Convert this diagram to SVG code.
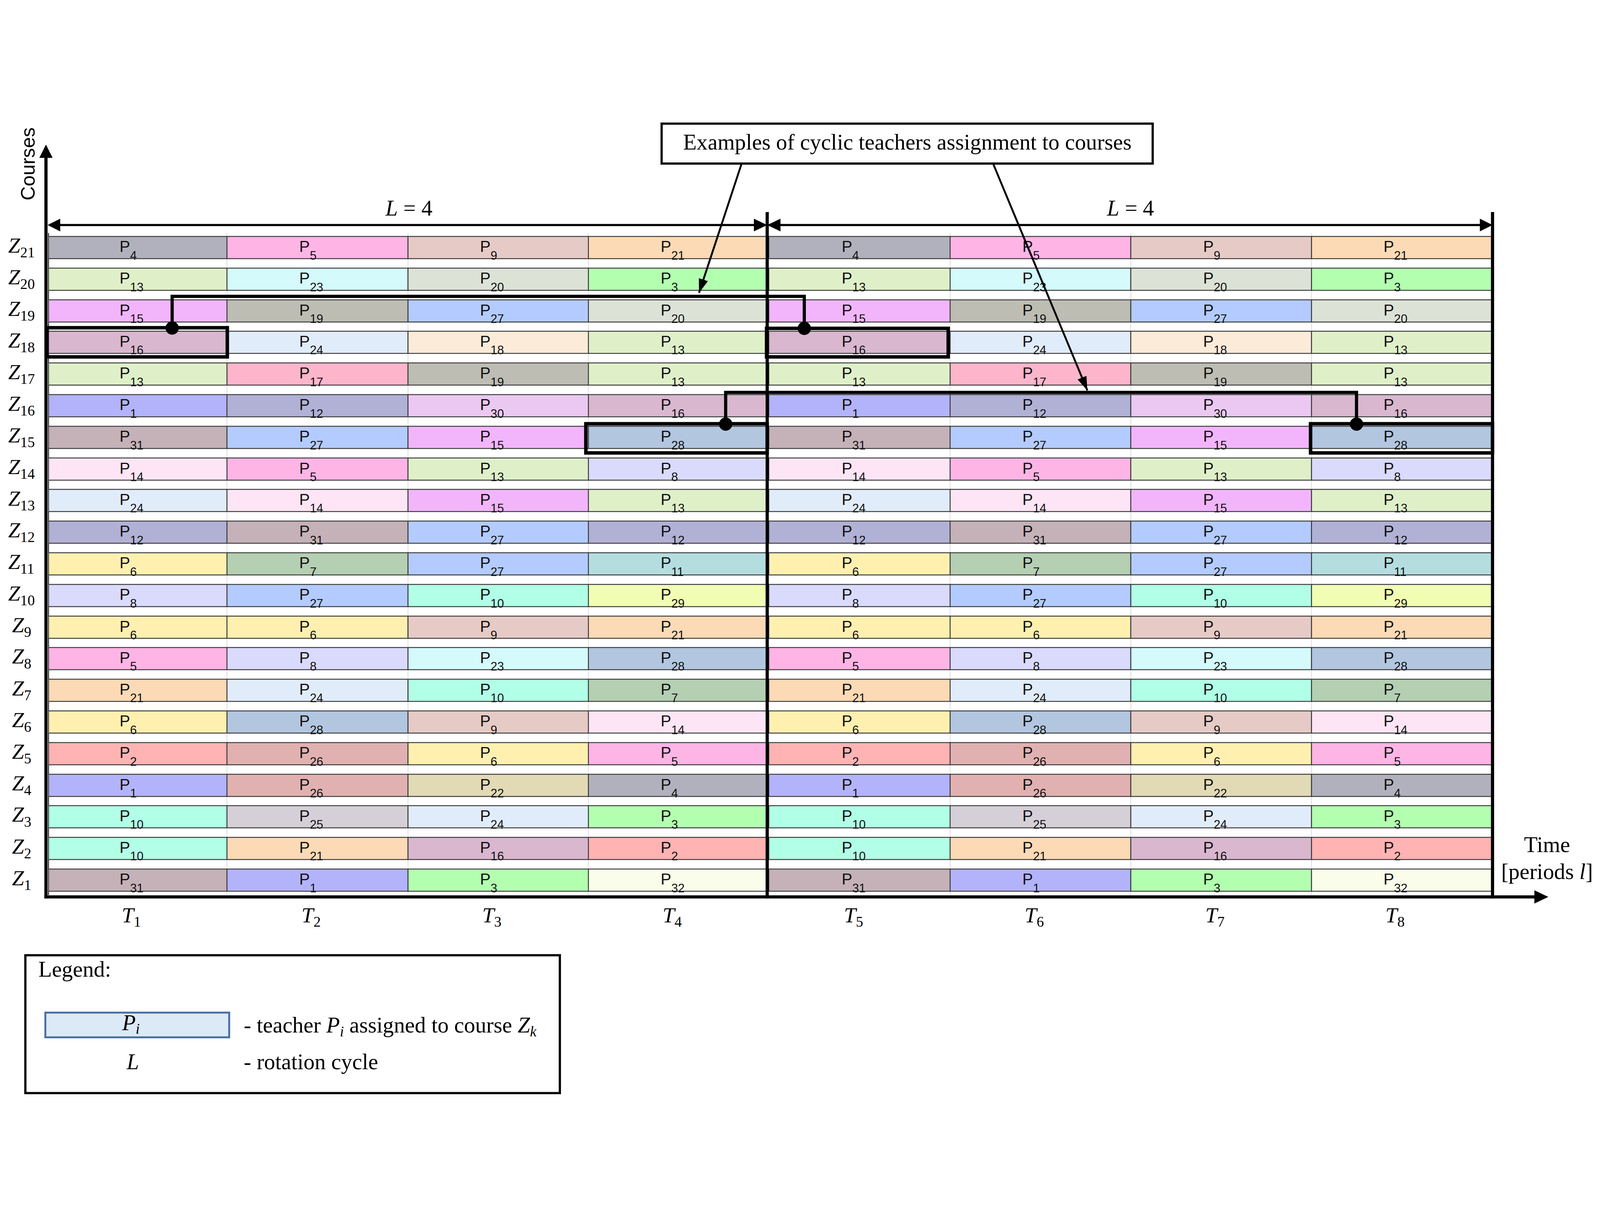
<svg xmlns="http://www.w3.org/2000/svg" width="5047" height="3119" viewBox="0 0 5047 3119" style="max-width:100vw;max-height:100vh">
<style>
.cells rect{stroke:#3c3c3c;stroke-width:3}
.cells text{font-family:"Liberation Sans",Arial,sans-serif;font-size:50px;fill:#111}
.cells tspan{font-size:38px}
.serif{font-family:"Liberation Serif","Times New Roman",serif;font-size:70px;fill:#000}
.it{font-style:italic}
.zl{font-family:"Liberation Serif","Times New Roman",serif;font-size:68px;font-style:italic}
.zs{font-size:46px;font-style:normal}
.ax{stroke:#000;stroke-width:10;fill:none}
.hl{stroke:#000;stroke-width:11;fill:none}
.cn{stroke:#000;stroke-width:10;fill:none}
.grid{stroke:#d4d4d4;stroke-width:2}
.p1{fill:#b3b3fb}.p2{fill:#ffb3b3}.p3{fill:#b3ffb0}.p4{fill:#b1b1bd}.p5{fill:#ffb4e6}.p6{fill:#fff0b0}.p7{fill:#b4cfb2}.p8{fill:#dadafc}
.p9{fill:#e6cac6}.p10{fill:#b1ffe6}.p11{fill:#b4dde0}.p12{fill:#b1b1d6}.p13{fill:#dff0c9}.p14{fill:#fde5f5}.p15{fill:#f2b5fc}.p16{fill:#d9b7cf}
.p17{fill:#fdb5cb}.p18{fill:#fdebd9}.p19{fill:#bdbdb3}.p20{fill:#dce2d6}.p21{fill:#fbdab5}.p22{fill:#e1dab5}.p23{fill:#d4fafc}.p24{fill:#e1ecfb}
.p25{fill:#d5d0d8}.p26{fill:#e1b1b1}.p27{fill:#b3cbff}.p28{fill:#b2c6e0}.p29{fill:#f2fdb4}.p30{fill:#ebc8f2}.p31{fill:#c5b1b8}.p32{fill:#f9fde9}
</style>
<defs>
<marker id="ah" viewBox="0 0 44 30" refX="44" refY="15" markerWidth="44" markerHeight="30" orient="auto" markerUnits="userSpaceOnUse"><path d="M0,0 L44,15 L0,30 z" fill="#000"/></marker>
</defs>
<rect width="5047" height="3119" fill="#fff"/>
<g id="grid-lines">
<line class="grid" x1="716" y1="373" x2="716" y2="2462"/>
<line class="grid" x1="1287" y1="373" x2="1287" y2="2462"/>
<line class="grid" x1="1856" y1="373" x2="1856" y2="2462"/>
<line class="grid" x1="2997" y1="373" x2="2997" y2="2462"/>
<line class="grid" x1="3567" y1="373" x2="3567" y2="2462"/>
<line class="grid" x1="4137" y1="373" x2="4137" y2="2462"/>
<line x1="153" y1="373" x2="153" y2="2462" stroke="#222" stroke-width="3"/>
</g>
<g class="cells">
<g id="row-z21" transform="translate(0,384)">
<g id="z21-t1"><rect class="p4" x="153" width="563" height="70"/><text x="377" y="49">P<tspan dy="24">4</tspan></text></g>
<g id="z21-t2"><rect class="p5" x="716" width="571" height="70"/><text x="944" y="49">P<tspan dy="24">5</tspan></text></g>
<g id="z21-t3"><rect class="p9" x="1287" width="569" height="70"/><text x="1514" y="49">P<tspan dy="24">9</tspan></text></g>
<g id="z21-t4"><rect class="p21" x="1856" width="564" height="70"/><text x="2084" y="49">P<tspan dy="24">21</tspan></text></g>
<g id="z21-t5"><rect class="p4" x="2425" width="572" height="70"/><text x="2655" y="49">P<tspan dy="24">4</tspan></text></g>
<g id="z21-t6"><rect class="p5" x="2997" width="570" height="70"/><text x="3225" y="49">P<tspan dy="24">5</tspan></text></g>
<g id="z21-t7"><rect class="p9" x="3567" width="570" height="70"/><text x="3795" y="49">P<tspan dy="24">9</tspan></text></g>
<g id="z21-t8"><rect class="p21" x="4137" width="568" height="70"/><text x="4364" y="49">P<tspan dy="24">21</tspan></text></g>
</g>
<g id="row-z20" transform="translate(0,484)">
<g id="z20-t1"><rect class="p13" x="153" width="563" height="70"/><text x="377" y="49">P<tspan dy="24">13</tspan></text></g>
<g id="z20-t2"><rect class="p23" x="716" width="571" height="70"/><text x="944" y="49">P<tspan dy="24">23</tspan></text></g>
<g id="z20-t3"><rect class="p20" x="1287" width="569" height="70"/><text x="1514" y="49">P<tspan dy="24">20</tspan></text></g>
<g id="z20-t4"><rect class="p3" x="1856" width="564" height="70"/><text x="2084" y="49">P<tspan dy="24">3</tspan></text></g>
<g id="z20-t5"><rect class="p13" x="2425" width="572" height="70"/><text x="2655" y="49">P<tspan dy="24">13</tspan></text></g>
<g id="z20-t6"><rect class="p23" x="2997" width="570" height="70"/><text x="3225" y="49">P<tspan dy="24">23</tspan></text></g>
<g id="z20-t7"><rect class="p20" x="3567" width="570" height="70"/><text x="3795" y="49">P<tspan dy="24">20</tspan></text></g>
<g id="z20-t8"><rect class="p3" x="4137" width="568" height="70"/><text x="4364" y="49">P<tspan dy="24">3</tspan></text></g>
</g>
<g id="row-z19" transform="translate(0,584)">
<g id="z19-t1"><rect class="p15" x="153" width="563" height="70"/><text x="377" y="49">P<tspan dy="24">15</tspan></text></g>
<g id="z19-t2"><rect class="p19" x="716" width="571" height="70"/><text x="944" y="49">P<tspan dy="24">19</tspan></text></g>
<g id="z19-t3"><rect class="p27" x="1287" width="569" height="70"/><text x="1514" y="49">P<tspan dy="24">27</tspan></text></g>
<g id="z19-t4"><rect class="p20" x="1856" width="564" height="70"/><text x="2084" y="49">P<tspan dy="24">20</tspan></text></g>
<g id="z19-t5"><rect class="p15" x="2425" width="572" height="70"/><text x="2655" y="49">P<tspan dy="24">15</tspan></text></g>
<g id="z19-t6"><rect class="p19" x="2997" width="570" height="70"/><text x="3225" y="49">P<tspan dy="24">19</tspan></text></g>
<g id="z19-t7"><rect class="p27" x="3567" width="570" height="70"/><text x="3795" y="49">P<tspan dy="24">27</tspan></text></g>
<g id="z19-t8"><rect class="p20" x="4137" width="568" height="70"/><text x="4364" y="49">P<tspan dy="24">20</tspan></text></g>
</g>
<g id="row-z18" transform="translate(0,683)">
<g id="z18-t1"><rect class="p16" x="153" width="563" height="70"/><text x="377" y="49">P<tspan dy="24">16</tspan></text></g>
<g id="z18-t2"><rect class="p24" x="716" width="571" height="70"/><text x="944" y="49">P<tspan dy="24">24</tspan></text></g>
<g id="z18-t3"><rect class="p18" x="1287" width="569" height="70"/><text x="1514" y="49">P<tspan dy="24">18</tspan></text></g>
<g id="z18-t4"><rect class="p13" x="1856" width="564" height="70"/><text x="2084" y="49">P<tspan dy="24">13</tspan></text></g>
<g id="z18-t5"><rect class="p16" x="2425" width="572" height="70"/><text x="2655" y="49">P<tspan dy="24">16</tspan></text></g>
<g id="z18-t6"><rect class="p24" x="2997" width="570" height="70"/><text x="3225" y="49">P<tspan dy="24">24</tspan></text></g>
<g id="z18-t7"><rect class="p18" x="3567" width="570" height="70"/><text x="3795" y="49">P<tspan dy="24">18</tspan></text></g>
<g id="z18-t8"><rect class="p13" x="4137" width="568" height="70"/><text x="4364" y="49">P<tspan dy="24">13</tspan></text></g>
</g>
<g id="row-z17" transform="translate(0,783)">
<g id="z17-t1"><rect class="p13" x="153" width="563" height="70"/><text x="377" y="49">P<tspan dy="24">13</tspan></text></g>
<g id="z17-t2"><rect class="p17" x="716" width="571" height="70"/><text x="944" y="49">P<tspan dy="24">17</tspan></text></g>
<g id="z17-t3"><rect class="p19" x="1287" width="569" height="70"/><text x="1514" y="49">P<tspan dy="24">19</tspan></text></g>
<g id="z17-t4"><rect class="p13" x="1856" width="564" height="70"/><text x="2084" y="49">P<tspan dy="24">13</tspan></text></g>
<g id="z17-t5"><rect class="p13" x="2425" width="572" height="70"/><text x="2655" y="49">P<tspan dy="24">13</tspan></text></g>
<g id="z17-t6"><rect class="p17" x="2997" width="570" height="70"/><text x="3225" y="49">P<tspan dy="24">17</tspan></text></g>
<g id="z17-t7"><rect class="p19" x="3567" width="570" height="70"/><text x="3795" y="49">P<tspan dy="24">19</tspan></text></g>
<g id="z17-t8"><rect class="p13" x="4137" width="568" height="70"/><text x="4364" y="49">P<tspan dy="24">13</tspan></text></g>
</g>
<g id="row-z16" transform="translate(0,883)">
<g id="z16-t1"><rect class="p1" x="153" width="563" height="70"/><text x="377" y="49">P<tspan dy="24">1</tspan></text></g>
<g id="z16-t2"><rect class="p12" x="716" width="571" height="70"/><text x="944" y="49">P<tspan dy="24">12</tspan></text></g>
<g id="z16-t3"><rect class="p30" x="1287" width="569" height="70"/><text x="1514" y="49">P<tspan dy="24">30</tspan></text></g>
<g id="z16-t4"><rect class="p16" x="1856" width="564" height="70"/><text x="2084" y="49">P<tspan dy="24">16</tspan></text></g>
<g id="z16-t5"><rect class="p1" x="2425" width="572" height="70"/><text x="2655" y="49">P<tspan dy="24">1</tspan></text></g>
<g id="z16-t6"><rect class="p12" x="2997" width="570" height="70"/><text x="3225" y="49">P<tspan dy="24">12</tspan></text></g>
<g id="z16-t7"><rect class="p30" x="3567" width="570" height="70"/><text x="3795" y="49">P<tspan dy="24">30</tspan></text></g>
<g id="z16-t8"><rect class="p16" x="4137" width="568" height="70"/><text x="4364" y="49">P<tspan dy="24">16</tspan></text></g>
</g>
<g id="row-z15" transform="translate(0,983)">
<g id="z15-t1"><rect class="p31" x="153" width="563" height="70"/><text x="377" y="49">P<tspan dy="24">31</tspan></text></g>
<g id="z15-t2"><rect class="p27" x="716" width="571" height="70"/><text x="944" y="49">P<tspan dy="24">27</tspan></text></g>
<g id="z15-t3"><rect class="p15" x="1287" width="569" height="70"/><text x="1514" y="49">P<tspan dy="24">15</tspan></text></g>
<g id="z15-t4"><rect class="p28" x="1856" width="564" height="70"/><text x="2084" y="49">P<tspan dy="24">28</tspan></text></g>
<g id="z15-t5"><rect class="p31" x="2425" width="572" height="70"/><text x="2655" y="49">P<tspan dy="24">31</tspan></text></g>
<g id="z15-t6"><rect class="p27" x="2997" width="570" height="70"/><text x="3225" y="49">P<tspan dy="24">27</tspan></text></g>
<g id="z15-t7"><rect class="p15" x="3567" width="570" height="70"/><text x="3795" y="49">P<tspan dy="24">15</tspan></text></g>
<g id="z15-t8"><rect class="p28" x="4137" width="568" height="70"/><text x="4364" y="49">P<tspan dy="24">28</tspan></text></g>
</g>
<g id="row-z14" transform="translate(0,1083)">
<g id="z14-t1"><rect class="p14" x="153" width="563" height="70"/><text x="377" y="49">P<tspan dy="24">14</tspan></text></g>
<g id="z14-t2"><rect class="p5" x="716" width="571" height="70"/><text x="944" y="49">P<tspan dy="24">5</tspan></text></g>
<g id="z14-t3"><rect class="p13" x="1287" width="569" height="70"/><text x="1514" y="49">P<tspan dy="24">13</tspan></text></g>
<g id="z14-t4"><rect class="p8" x="1856" width="564" height="70"/><text x="2084" y="49">P<tspan dy="24">8</tspan></text></g>
<g id="z14-t5"><rect class="p14" x="2425" width="572" height="70"/><text x="2655" y="49">P<tspan dy="24">14</tspan></text></g>
<g id="z14-t6"><rect class="p5" x="2997" width="570" height="70"/><text x="3225" y="49">P<tspan dy="24">5</tspan></text></g>
<g id="z14-t7"><rect class="p13" x="3567" width="570" height="70"/><text x="3795" y="49">P<tspan dy="24">13</tspan></text></g>
<g id="z14-t8"><rect class="p8" x="4137" width="568" height="70"/><text x="4364" y="49">P<tspan dy="24">8</tspan></text></g>
</g>
<g id="row-z13" transform="translate(0,1182)">
<g id="z13-t1"><rect class="p24" x="153" width="563" height="70"/><text x="377" y="49">P<tspan dy="24">24</tspan></text></g>
<g id="z13-t2"><rect class="p14" x="716" width="571" height="70"/><text x="944" y="49">P<tspan dy="24">14</tspan></text></g>
<g id="z13-t3"><rect class="p15" x="1287" width="569" height="70"/><text x="1514" y="49">P<tspan dy="24">15</tspan></text></g>
<g id="z13-t4"><rect class="p13" x="1856" width="564" height="70"/><text x="2084" y="49">P<tspan dy="24">13</tspan></text></g>
<g id="z13-t5"><rect class="p24" x="2425" width="572" height="70"/><text x="2655" y="49">P<tspan dy="24">24</tspan></text></g>
<g id="z13-t6"><rect class="p14" x="2997" width="570" height="70"/><text x="3225" y="49">P<tspan dy="24">14</tspan></text></g>
<g id="z13-t7"><rect class="p15" x="3567" width="570" height="70"/><text x="3795" y="49">P<tspan dy="24">15</tspan></text></g>
<g id="z13-t8"><rect class="p13" x="4137" width="568" height="70"/><text x="4364" y="49">P<tspan dy="24">13</tspan></text></g>
</g>
<g id="row-z12" transform="translate(0,1282)">
<g id="z12-t1"><rect class="p12" x="153" width="563" height="70"/><text x="377" y="49">P<tspan dy="24">12</tspan></text></g>
<g id="z12-t2"><rect class="p31" x="716" width="571" height="70"/><text x="944" y="49">P<tspan dy="24">31</tspan></text></g>
<g id="z12-t3"><rect class="p27" x="1287" width="569" height="70"/><text x="1514" y="49">P<tspan dy="24">27</tspan></text></g>
<g id="z12-t4"><rect class="p12" x="1856" width="564" height="70"/><text x="2084" y="49">P<tspan dy="24">12</tspan></text></g>
<g id="z12-t5"><rect class="p12" x="2425" width="572" height="70"/><text x="2655" y="49">P<tspan dy="24">12</tspan></text></g>
<g id="z12-t6"><rect class="p31" x="2997" width="570" height="70"/><text x="3225" y="49">P<tspan dy="24">31</tspan></text></g>
<g id="z12-t7"><rect class="p27" x="3567" width="570" height="70"/><text x="3795" y="49">P<tspan dy="24">27</tspan></text></g>
<g id="z12-t8"><rect class="p12" x="4137" width="568" height="70"/><text x="4364" y="49">P<tspan dy="24">12</tspan></text></g>
</g>
<g id="row-z11" transform="translate(0,1382)">
<g id="z11-t1"><rect class="p6" x="153" width="563" height="70"/><text x="377" y="49">P<tspan dy="24">6</tspan></text></g>
<g id="z11-t2"><rect class="p7" x="716" width="571" height="70"/><text x="944" y="49">P<tspan dy="24">7</tspan></text></g>
<g id="z11-t3"><rect class="p27" x="1287" width="569" height="70"/><text x="1514" y="49">P<tspan dy="24">27</tspan></text></g>
<g id="z11-t4"><rect class="p11" x="1856" width="564" height="70"/><text x="2084" y="49">P<tspan dy="24">11</tspan></text></g>
<g id="z11-t5"><rect class="p6" x="2425" width="572" height="70"/><text x="2655" y="49">P<tspan dy="24">6</tspan></text></g>
<g id="z11-t6"><rect class="p7" x="2997" width="570" height="70"/><text x="3225" y="49">P<tspan dy="24">7</tspan></text></g>
<g id="z11-t7"><rect class="p27" x="3567" width="570" height="70"/><text x="3795" y="49">P<tspan dy="24">27</tspan></text></g>
<g id="z11-t8"><rect class="p11" x="4137" width="568" height="70"/><text x="4364" y="49">P<tspan dy="24">11</tspan></text></g>
</g>
<g id="row-z10" transform="translate(0,1482)">
<g id="z10-t1"><rect class="p8" x="153" width="563" height="70"/><text x="377" y="49">P<tspan dy="24">8</tspan></text></g>
<g id="z10-t2"><rect class="p27" x="716" width="571" height="70"/><text x="944" y="49">P<tspan dy="24">27</tspan></text></g>
<g id="z10-t3"><rect class="p10" x="1287" width="569" height="70"/><text x="1514" y="49">P<tspan dy="24">10</tspan></text></g>
<g id="z10-t4"><rect class="p29" x="1856" width="564" height="70"/><text x="2084" y="49">P<tspan dy="24">29</tspan></text></g>
<g id="z10-t5"><rect class="p8" x="2425" width="572" height="70"/><text x="2655" y="49">P<tspan dy="24">8</tspan></text></g>
<g id="z10-t6"><rect class="p27" x="2997" width="570" height="70"/><text x="3225" y="49">P<tspan dy="24">27</tspan></text></g>
<g id="z10-t7"><rect class="p10" x="3567" width="570" height="70"/><text x="3795" y="49">P<tspan dy="24">10</tspan></text></g>
<g id="z10-t8"><rect class="p29" x="4137" width="568" height="70"/><text x="4364" y="49">P<tspan dy="24">29</tspan></text></g>
</g>
<g id="row-z9" transform="translate(0,1582)">
<g id="z9-t1"><rect class="p6" x="153" width="563" height="70"/><text x="377" y="49">P<tspan dy="24">6</tspan></text></g>
<g id="z9-t2"><rect class="p6" x="716" width="571" height="70"/><text x="944" y="49">P<tspan dy="24">6</tspan></text></g>
<g id="z9-t3"><rect class="p9" x="1287" width="569" height="70"/><text x="1514" y="49">P<tspan dy="24">9</tspan></text></g>
<g id="z9-t4"><rect class="p21" x="1856" width="564" height="70"/><text x="2084" y="49">P<tspan dy="24">21</tspan></text></g>
<g id="z9-t5"><rect class="p6" x="2425" width="572" height="70"/><text x="2655" y="49">P<tspan dy="24">6</tspan></text></g>
<g id="z9-t6"><rect class="p6" x="2997" width="570" height="70"/><text x="3225" y="49">P<tspan dy="24">6</tspan></text></g>
<g id="z9-t7"><rect class="p9" x="3567" width="570" height="70"/><text x="3795" y="49">P<tspan dy="24">9</tspan></text></g>
<g id="z9-t8"><rect class="p21" x="4137" width="568" height="70"/><text x="4364" y="49">P<tspan dy="24">21</tspan></text></g>
</g>
<g id="row-z8" transform="translate(0,1681)">
<g id="z8-t1"><rect class="p5" x="153" width="563" height="70"/><text x="377" y="49">P<tspan dy="24">5</tspan></text></g>
<g id="z8-t2"><rect class="p8" x="716" width="571" height="70"/><text x="944" y="49">P<tspan dy="24">8</tspan></text></g>
<g id="z8-t3"><rect class="p23" x="1287" width="569" height="70"/><text x="1514" y="49">P<tspan dy="24">23</tspan></text></g>
<g id="z8-t4"><rect class="p28" x="1856" width="564" height="70"/><text x="2084" y="49">P<tspan dy="24">28</tspan></text></g>
<g id="z8-t5"><rect class="p5" x="2425" width="572" height="70"/><text x="2655" y="49">P<tspan dy="24">5</tspan></text></g>
<g id="z8-t6"><rect class="p8" x="2997" width="570" height="70"/><text x="3225" y="49">P<tspan dy="24">8</tspan></text></g>
<g id="z8-t7"><rect class="p23" x="3567" width="570" height="70"/><text x="3795" y="49">P<tspan dy="24">23</tspan></text></g>
<g id="z8-t8"><rect class="p28" x="4137" width="568" height="70"/><text x="4364" y="49">P<tspan dy="24">28</tspan></text></g>
</g>
<g id="row-z7" transform="translate(0,1781)">
<g id="z7-t1"><rect class="p21" x="153" width="563" height="70"/><text x="377" y="49">P<tspan dy="24">21</tspan></text></g>
<g id="z7-t2"><rect class="p24" x="716" width="571" height="70"/><text x="944" y="49">P<tspan dy="24">24</tspan></text></g>
<g id="z7-t3"><rect class="p10" x="1287" width="569" height="70"/><text x="1514" y="49">P<tspan dy="24">10</tspan></text></g>
<g id="z7-t4"><rect class="p7" x="1856" width="564" height="70"/><text x="2084" y="49">P<tspan dy="24">7</tspan></text></g>
<g id="z7-t5"><rect class="p21" x="2425" width="572" height="70"/><text x="2655" y="49">P<tspan dy="24">21</tspan></text></g>
<g id="z7-t6"><rect class="p24" x="2997" width="570" height="70"/><text x="3225" y="49">P<tspan dy="24">24</tspan></text></g>
<g id="z7-t7"><rect class="p10" x="3567" width="570" height="70"/><text x="3795" y="49">P<tspan dy="24">10</tspan></text></g>
<g id="z7-t8"><rect class="p7" x="4137" width="568" height="70"/><text x="4364" y="49">P<tspan dy="24">7</tspan></text></g>
</g>
<g id="row-z6" transform="translate(0,1881)">
<g id="z6-t1"><rect class="p6" x="153" width="563" height="70"/><text x="377" y="49">P<tspan dy="24">6</tspan></text></g>
<g id="z6-t2"><rect class="p28" x="716" width="571" height="70"/><text x="944" y="49">P<tspan dy="24">28</tspan></text></g>
<g id="z6-t3"><rect class="p9" x="1287" width="569" height="70"/><text x="1514" y="49">P<tspan dy="24">9</tspan></text></g>
<g id="z6-t4"><rect class="p14" x="1856" width="564" height="70"/><text x="2084" y="49">P<tspan dy="24">14</tspan></text></g>
<g id="z6-t5"><rect class="p6" x="2425" width="572" height="70"/><text x="2655" y="49">P<tspan dy="24">6</tspan></text></g>
<g id="z6-t6"><rect class="p28" x="2997" width="570" height="70"/><text x="3225" y="49">P<tspan dy="24">28</tspan></text></g>
<g id="z6-t7"><rect class="p9" x="3567" width="570" height="70"/><text x="3795" y="49">P<tspan dy="24">9</tspan></text></g>
<g id="z6-t8"><rect class="p14" x="4137" width="568" height="70"/><text x="4364" y="49">P<tspan dy="24">14</tspan></text></g>
</g>
<g id="row-z5" transform="translate(0,1981)">
<g id="z5-t1"><rect class="p2" x="153" width="563" height="70"/><text x="377" y="49">P<tspan dy="24">2</tspan></text></g>
<g id="z5-t2"><rect class="p26" x="716" width="571" height="70"/><text x="944" y="49">P<tspan dy="24">26</tspan></text></g>
<g id="z5-t3"><rect class="p6" x="1287" width="569" height="70"/><text x="1514" y="49">P<tspan dy="24">6</tspan></text></g>
<g id="z5-t4"><rect class="p5" x="1856" width="564" height="70"/><text x="2084" y="49">P<tspan dy="24">5</tspan></text></g>
<g id="z5-t5"><rect class="p2" x="2425" width="572" height="70"/><text x="2655" y="49">P<tspan dy="24">2</tspan></text></g>
<g id="z5-t6"><rect class="p26" x="2997" width="570" height="70"/><text x="3225" y="49">P<tspan dy="24">26</tspan></text></g>
<g id="z5-t7"><rect class="p6" x="3567" width="570" height="70"/><text x="3795" y="49">P<tspan dy="24">6</tspan></text></g>
<g id="z5-t8"><rect class="p5" x="4137" width="568" height="70"/><text x="4364" y="49">P<tspan dy="24">5</tspan></text></g>
</g>
<g id="row-z4" transform="translate(0,2081)">
<g id="z4-t1"><rect class="p1" x="153" width="563" height="70"/><text x="377" y="49">P<tspan dy="24">1</tspan></text></g>
<g id="z4-t2"><rect class="p26" x="716" width="571" height="70"/><text x="944" y="49">P<tspan dy="24">26</tspan></text></g>
<g id="z4-t3"><rect class="p22" x="1287" width="569" height="70"/><text x="1514" y="49">P<tspan dy="24">22</tspan></text></g>
<g id="z4-t4"><rect class="p4" x="1856" width="564" height="70"/><text x="2084" y="49">P<tspan dy="24">4</tspan></text></g>
<g id="z4-t5"><rect class="p1" x="2425" width="572" height="70"/><text x="2655" y="49">P<tspan dy="24">1</tspan></text></g>
<g id="z4-t6"><rect class="p26" x="2997" width="570" height="70"/><text x="3225" y="49">P<tspan dy="24">26</tspan></text></g>
<g id="z4-t7"><rect class="p22" x="3567" width="570" height="70"/><text x="3795" y="49">P<tspan dy="24">22</tspan></text></g>
<g id="z4-t8"><rect class="p4" x="4137" width="568" height="70"/><text x="4364" y="49">P<tspan dy="24">4</tspan></text></g>
</g>
<g id="row-z3" transform="translate(0,2180)">
<g id="z3-t1"><rect class="p10" x="153" width="563" height="70"/><text x="377" y="49">P<tspan dy="24">10</tspan></text></g>
<g id="z3-t2"><rect class="p25" x="716" width="571" height="70"/><text x="944" y="49">P<tspan dy="24">25</tspan></text></g>
<g id="z3-t3"><rect class="p24" x="1287" width="569" height="70"/><text x="1514" y="49">P<tspan dy="24">24</tspan></text></g>
<g id="z3-t4"><rect class="p3" x="1856" width="564" height="70"/><text x="2084" y="49">P<tspan dy="24">3</tspan></text></g>
<g id="z3-t5"><rect class="p10" x="2425" width="572" height="70"/><text x="2655" y="49">P<tspan dy="24">10</tspan></text></g>
<g id="z3-t6"><rect class="p25" x="2997" width="570" height="70"/><text x="3225" y="49">P<tspan dy="24">25</tspan></text></g>
<g id="z3-t7"><rect class="p24" x="3567" width="570" height="70"/><text x="3795" y="49">P<tspan dy="24">24</tspan></text></g>
<g id="z3-t8"><rect class="p3" x="4137" width="568" height="70"/><text x="4364" y="49">P<tspan dy="24">3</tspan></text></g>
</g>
<g id="row-z2" transform="translate(0,2280)">
<g id="z2-t1"><rect class="p10" x="153" width="563" height="70"/><text x="377" y="49">P<tspan dy="24">10</tspan></text></g>
<g id="z2-t2"><rect class="p21" x="716" width="571" height="70"/><text x="944" y="49">P<tspan dy="24">21</tspan></text></g>
<g id="z2-t3"><rect class="p16" x="1287" width="569" height="70"/><text x="1514" y="49">P<tspan dy="24">16</tspan></text></g>
<g id="z2-t4"><rect class="p2" x="1856" width="564" height="70"/><text x="2084" y="49">P<tspan dy="24">2</tspan></text></g>
<g id="z2-t5"><rect class="p10" x="2425" width="572" height="70"/><text x="2655" y="49">P<tspan dy="24">10</tspan></text></g>
<g id="z2-t6"><rect class="p21" x="2997" width="570" height="70"/><text x="3225" y="49">P<tspan dy="24">21</tspan></text></g>
<g id="z2-t7"><rect class="p16" x="3567" width="570" height="70"/><text x="3795" y="49">P<tspan dy="24">16</tspan></text></g>
<g id="z2-t8"><rect class="p2" x="4137" width="568" height="70"/><text x="4364" y="49">P<tspan dy="24">2</tspan></text></g>
</g>
<g id="row-z1" transform="translate(0,2380)">
<g id="z1-t1"><rect class="p31" x="153" width="563" height="70"/><text x="377" y="49">P<tspan dy="24">31</tspan></text></g>
<g id="z1-t2"><rect class="p1" x="716" width="571" height="70"/><text x="944" y="49">P<tspan dy="24">1</tspan></text></g>
<g id="z1-t3"><rect class="p3" x="1287" width="569" height="70"/><text x="1514" y="49">P<tspan dy="24">3</tspan></text></g>
<g id="z1-t4"><rect class="p32" x="1856" width="564" height="70"/><text x="2084" y="49">P<tspan dy="24">32</tspan></text></g>
<g id="z1-t5"><rect class="p31" x="2425" width="572" height="70"/><text x="2655" y="49">P<tspan dy="24">31</tspan></text></g>
<g id="z1-t6"><rect class="p1" x="2997" width="570" height="70"/><text x="3225" y="49">P<tspan dy="24">1</tspan></text></g>
<g id="z1-t7"><rect class="p3" x="3567" width="570" height="70"/><text x="3795" y="49">P<tspan dy="24">3</tspan></text></g>
<g id="z1-t8"><rect class="p32" x="4137" width="568" height="70"/><text x="4364" y="49">P<tspan dy="24">32</tspan></text></g>
</g>
</g>
<g id="axes">
<line class="ax" x1="145" y1="2473" x2="145" y2="130"/>
<path d="M124,136 L145,94 L166,136 z" fill="#000"/>
<line class="ax" x1="140" y1="2468" x2="4845" y2="2468"/>
<path d="M4840,2447 L4884,2468 L4840,2489 z" fill="#000"/>
<line class="ax" x1="2420" y1="307" x2="2420" y2="2473"/>
<line class="ax" x1="4708" y1="307" x2="4708" y2="2473"/>
<text transform="translate(110,155) rotate(-90)" text-anchor="middle" font-family="Liberation Sans, Arial, sans-serif" font-size="62">Courses</text>
<text class="serif" x="4880" y="2327" text-anchor="middle">Time</text>
<text class="serif" x="4880" y="2412" text-anchor="middle">[periods <tspan class="it">l</tspan>]</text>
</g>
<g id="cycle-dimensions">
<line x1="185" y1="348" x2="2385" y2="348" stroke="#000" stroke-width="7"/>
<path d="M150,348 L190,328 L190,368 z" fill="#000"/>
<path d="M2420,348 L2378,328 L2378,368 z" fill="#000"/>
<line x1="2455" y1="348" x2="4673" y2="348" stroke="#000" stroke-width="7"/>
<path d="M2420,348 L2462,328 L2462,368 z" fill="#000"/>
<path d="M4708,348 L4668,328 L4668,368 z" fill="#000"/>
<text class="serif" x="1290" y="318" text-anchor="middle"><tspan class="it">L</tspan> = 4</text>
<text class="serif" x="3566" y="318" text-anchor="middle"><tspan class="it">L</tspan> = 4</text>
</g>
<g id="course-labels" class="zl">
<text x="26" y="435">Z<tspan class="zs" dy="15">21</tspan></text>
<text x="26" y="535">Z<tspan class="zs" dy="15">20</tspan></text>
<text x="26" y="635">Z<tspan class="zs" dy="15">19</tspan></text>
<text x="26" y="734">Z<tspan class="zs" dy="15">18</tspan></text>
<text x="26" y="834">Z<tspan class="zs" dy="15">17</tspan></text>
<text x="26" y="934">Z<tspan class="zs" dy="15">16</tspan></text>
<text x="26" y="1034">Z<tspan class="zs" dy="15">15</tspan></text>
<text x="26" y="1134">Z<tspan class="zs" dy="15">14</tspan></text>
<text x="26" y="1233">Z<tspan class="zs" dy="15">13</tspan></text>
<text x="26" y="1333">Z<tspan class="zs" dy="15">12</tspan></text>
<text x="26" y="1433">Z<tspan class="zs" dy="15">11</tspan></text>
<text x="26" y="1533">Z<tspan class="zs" dy="15">10</tspan></text>
<text x="38" y="1633">Z<tspan class="zs" dy="15">9</tspan></text>
<text x="38" y="1732">Z<tspan class="zs" dy="15">8</tspan></text>
<text x="38" y="1832">Z<tspan class="zs" dy="15">7</tspan></text>
<text x="38" y="1932">Z<tspan class="zs" dy="15">6</tspan></text>
<text x="38" y="2032">Z<tspan class="zs" dy="15">5</tspan></text>
<text x="38" y="2132">Z<tspan class="zs" dy="15">4</tspan></text>
<text x="38" y="2231">Z<tspan class="zs" dy="15">3</tspan></text>
<text x="38" y="2331">Z<tspan class="zs" dy="15">2</tspan></text>
<text x="38" y="2431">Z<tspan class="zs" dy="15">1</tspan></text>
</g>
<g id="period-labels" class="zl">
<text x="384" y="2548">T<tspan class="zs" dy="14">1</tspan></text>
<text x="951" y="2548">T<tspan class="zs" dy="14">2</tspan></text>
<text x="1521" y="2548">T<tspan class="zs" dy="14">3</tspan></text>
<text x="2090" y="2548">T<tspan class="zs" dy="14">4</tspan></text>
<text x="2662" y="2548">T<tspan class="zs" dy="14">5</tspan></text>
<text x="3232" y="2548">T<tspan class="zs" dy="14">6</tspan></text>
<text x="3802" y="2548">T<tspan class="zs" dy="14">7</tspan></text>
<text x="4370" y="2548">T<tspan class="zs" dy="14">8</tspan></text>
</g>
<g id="highlights">
<rect id="hl-z18-t1" class="hl" x="148" y="672" width="569" height="92"/>
<rect id="hl-z18-t5" class="hl" x="2418" y="674" width="573" height="90"/>
<rect id="hl-z15-t4" class="hl" x="1848" y="975" width="572" height="92"/>
<rect id="hl-z15-t8" class="hl" x="4134" y="975" width="574" height="92"/>
</g>
<g id="connectors">
<path class="cn" d="M543,673 V573 H2537 V674"/>
<circle cx="543" cy="673" r="21"/>
<circle cx="2537" cy="674" r="21"/>
<path class="cn" d="M2289,976 V876 H4279 V976"/>
<circle cx="2289" cy="976" r="21"/>
<circle cx="4279" cy="976" r="21"/>
<line x1="2339" y1="155" x2="2205" y2="562" stroke="#000" stroke-width="6" marker-end="url(#ah)"/>
<line x1="3133" y1="155" x2="3430" y2="870" stroke="#000" stroke-width="6" marker-end="url(#ah)"/>
</g>
<g id="callout">
<rect x="2087" y="28" width="1549" height="126" fill="#fff" stroke="#000" stroke-width="7"/>
<text class="serif" x="2862" y="110" text-anchor="middle">Examples of cyclic teachers assignment to courses</text>
</g>
<g id="legend">
<rect x="80" y="2652" width="1686" height="435" fill="#fff" stroke="#000" stroke-width="7"/>
<text class="serif" x="121" y="2719">Legend:</text>
<rect x="143" y="2833" width="580" height="78" fill="#dce9f7" stroke="#46709e" stroke-width="6"/>
<text class="serif" x="413" y="2888" text-anchor="middle"><tspan class="it">P</tspan><tspan class="it" font-size="46" dy="12">i</tspan></text>
<text class="serif" x="769" y="2896">- teacher <tspan class="it">P</tspan><tspan class="it" font-size="46" dy="12">i</tspan><tspan dy="-12"> assigned to course </tspan><tspan class="it">Z</tspan><tspan class="it" font-size="46" dy="12">k</tspan></text>
<text class="serif it" x="419" y="3012" text-anchor="middle">L</text>
<text class="serif" x="769" y="3012">- rotation cycle</text>
</g>
</svg>
